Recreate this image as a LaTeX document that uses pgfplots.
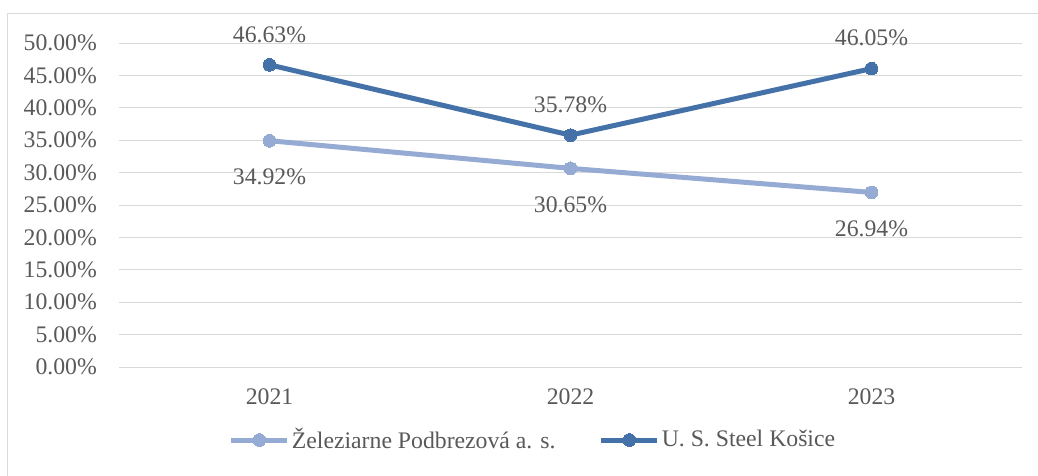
\documentclass[border=0pt]{standalone}
\usepackage{fontspec}
\setmainfont{Liberation Serif}
\usepackage{pgfplots}
\pgfplotsset{compat=1.18}
\definecolor{dk}{RGB}{68,114,168}
\definecolor{lt}{RGB}{149,171,211}
\definecolor{txt}{RGB}{89,89,89}
\definecolor{grd}{RGB}{217,217,217}
\newcommand{\fs}{\fontsize{17.8}{21}\selectfont}
\begin{document}
\fs
\begin{tikzpicture}
\useasboundingbox (0pt,0pt) rectangle (778.5pt,356.25pt);
\draw[grd, line width=0.75pt] (5.25pt,-20pt) rectangle (800pt,345.75pt);
\begin{axis}[
  at={(89.25pt,81pt)}, anchor=south west,
  width=677.25pt, height=243pt, scale only axis,
  xmin=-0.5, xmax=2.5, ymin=0, ymax=50,
  axis line style={draw=none},
  major tick length=0pt,
  ytick={0,5,...,50},
  yticklabels={0.00\%,5.00\%,10.00\%,15.00\%,20.00\%,25.00\%,30.00\%,35.00\%,40.00\%,45.00\%,50.00\%},
  xtick={0,1,2}, xticklabels={2021,2022,2023},
  ymajorgrids, grid style={grd, line width=0.75pt},
  ticklabel style={text=txt, font=\fs},
  yticklabel style={xshift=-10.5pt},
  xticklabel style={yshift=-10pt},
  clip=false,
  point meta=explicit symbolic,
  legend columns=2,
  legend style={at={(0.4585,0)}, anchor=center, yshift=-54.75pt, draw=none, fill=none,
    text=txt, font=\fs,
    nodes={inner xsep=1.5pt},
    /tikz/every even column/.append style={column sep=31pt},
    inner sep=0pt},
  legend cell align=left,
  legend image code/.code={\draw[mark repeat=2,mark phase=2,#1] plot coordinates {(0pt,0pt) (21pt,0pt) (42pt,0pt)};},
]
\addplot[lt, line width=3.75pt, mark=*, mark size=4.8pt, mark options={draw=lt, fill=lt, line width=0pt},
  nodes near coords, every node near coord/.append style={anchor=base, yshift=-33pt, text=txt, font=\fs}]
  coordinates {(0,34.92)[34.92\%] (1,30.65)[30.65\%] (2,26.94)[26.94\%]};
\addlegendentry{Železiarne Podbrezová a. s.}
\addplot[dk, line width=3.75pt, mark=*, mark size=4.8pt, mark options={draw=dk, fill=dk, line width=0pt},
  nodes near coords, every node near coord/.append style={anchor=base, yshift=17pt, text=txt, font=\fs}]
  coordinates {(0,46.63)[46.63\%] (1,35.78)[35.78\%] (2,46.05)[46.05\%]};
\addlegendentry{U. S. Steel Košice}
\end{axis}
\end{tikzpicture}
\end{document}
